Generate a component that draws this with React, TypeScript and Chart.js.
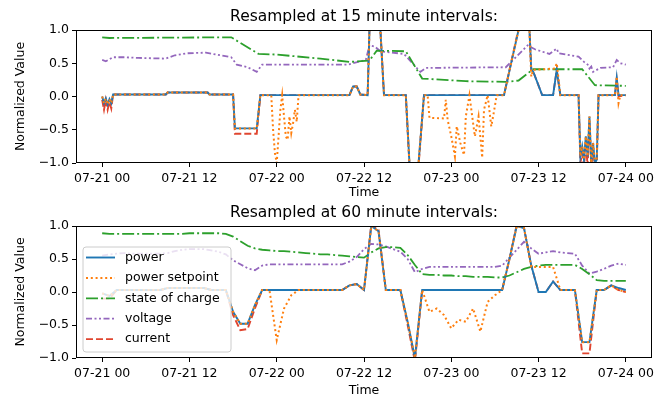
import React, { useEffect, useRef } from 'react';
import { Chart, registerables } from 'chart.js';

Chart.register(...registerables);

// ---------------- data ----------------
const START_DAY = 21;
const X_TICKS = [0, 12, 24, 36, 48, 60, 72];
const Y_TICKS = [-1, -0.5, 0, 0.5, 1];
const SERIES_NAMES = ['power', 'power setpoint', 'state of charge', 'voltage', 'current'];
const TITLES = ['Resampled at 15 minute intervals:', 'Resampled at 60 minute intervals:'];

// 15 minute resampling: [hour since 07-21 00, value]
const POWER_15 = [[0,0],[0.25,-0.1],[0.5,-0.03],[0.75,-0.12],[1,-0.04],[1.25,-0.1],[1.5,0.03],[8.75,0.03],[9,0.06],[14.5,0.06],[14.75,0.03],[18,0.03],[18.25,-0.48],[21.25,-0.48],[21.75,0.02],[34,0.02],[34.5,0.15],[35,0.15],[35.5,0.03],[36.5,0.02],[36.75,1],[38.25,1],[38.75,0.02],[41.75,0.02],[42.25,-1],[43.5,-1],[44.25,0.02],[55.25,0.02],[57.25,1],[58.75,1],[59,0.4],[59.25,0.38],[60.5,0.02],[62,0.02],[62.5,0.4],[63,0.02],[65.5,0.02],[65.75,-0.9],[66,-0.75],[66.25,-0.95],[66.5,-0.6],[66.75,-0.9],[67,-0.3],[67.25,-1],[67.5,-0.7],[67.75,-1],[68,-0.95],[68.25,0.02],[70.5,0.02],[70.75,0.28],[71,0.02],[72,0.02]];
const SETPOINT_15 = [[0,0],[0.25,-0.1],[0.5,-0.03],[0.75,-0.12],[1,-0.04],[1.25,-0.1],[1.5,0.03],[8.75,0.03],[9,0.06],[14.5,0.06],[14.75,0.03],[18,0.03],[18.25,-0.48],[21.25,-0.48],[21.75,0.02],[23.25,0.02],[23.5,-0.5],[23.75,-0.85],[24,-1],[24.25,-0.6],[24.5,-0.2],[24.75,0.02],[25,-0.3],[25.25,-0.6],[25.5,-0.65],[25.75,-0.3],[26,-0.55],[26.25,-0.4],[26.5,-0.2],[26.75,-0.38],[27,0.02],[34,0.02],[34.5,0.15],[35,0.15],[35.5,0.03],[36.5,0.02],[36.75,1],[38.25,1],[38.75,0.02],[41.75,0.02],[42.25,-1],[43.5,-1],[44.25,0.02],[44.75,0.02],[45,-0.32],[47,-0.33],[47.25,-0.05],[47.5,-0.35],[48,-0.6],[48.5,-0.9],[48.75,-0.45],[49.25,-0.7],[49.75,-0.88],[50,-0.3],[50.5,0.02],[51,-0.4],[51.25,-0.6],[51.75,-0.3],[52.25,-0.92],[52.5,-0.2],[53,0.02],[53.5,-0.45],[53.75,-0.3],[54.25,0.02],[55.25,0.02],[57.25,1],[58.75,1],[59,0.3],[59.25,0.4],[62.25,0.42],[62.5,0.5],[63,0.02],[65.5,0.02],[65.75,-0.9],[66,-0.75],[66.25,-0.95],[66.5,-0.6],[66.75,-0.9],[67,-0.3],[67.25,-1],[67.5,-0.7],[67.75,-1],[68,-0.95],[68.25,0.02],[70.5,0.02],[70.75,0.3],[71,-0.1],[71.25,0.02],[72,0.02]];
const SOC_15 = [[0,0.89],[1,0.88],[17.75,0.89],[21.5,0.64],[24,0.63],[30,0.57],[34,0.52],[36.75,0.54],[37.75,0.69],[41.75,0.68],[44,0.27],[50,0.23],[55.5,0.22],[57.25,0.24],[59.25,0.41],[66,0.41],[67.75,0.17],[72,0.16]];
const VOLTAGE_15 = [[0,0.55],[0.5,0.53],[1.5,0.59],[3,0.59],[5,0.58],[8.75,0.57],[10,0.62],[11.75,0.65],[14.25,0.66],[16.25,0.62],[17.75,0.59],[18.5,0.48],[20,0.44],[21.25,0.37],[22,0.48],[33.75,0.48],[36.25,0.55],[36.75,0.77],[37.5,0.75],[38.25,0.68],[41.5,0.64],[43.75,0.37],[44.5,0.43],[55.5,0.44],[58.5,0.77],[59.5,0.71],[61.5,0.64],[62.5,0.72],[62.75,0.65],[65.5,0.6],[66.25,0.52],[66.75,0.48],[67,0.42],[67.25,0.45],[67.5,0.37],[68.5,0.43],[70.25,0.44],[70.75,0.55],[71.25,0.5],[72,0.48]];
const CURRENT_15 = [[0,-0.05],[0.25,-0.2],[0.5,-0.05],[0.75,-0.2],[1,-0.08],[1.25,-0.18],[1.5,0.03],[8.75,0.03],[9,0.06],[14.5,0.06],[14.75,0.03],[18,0.03],[18.25,-0.56],[21.25,-0.56],[21.75,0.02],[34,0.02],[34.5,0.15],[35,0.15],[35.5,0.03],[36.5,0.02],[36.75,1.02],[38.25,1.02],[38.75,0.02],[41.75,0.02],[42.25,-1.04],[43.5,-1.04],[44.25,0.02],[55.25,0.02],[57.25,1.02],[58.75,1.02],[59,0.4],[59.25,0.38],[60.5,0.02],[62,0.02],[62.5,0.4],[63,0.02],[65.5,0.02],[65.75,-1],[66,-0.85],[66.25,-1.05],[66.5,-0.7],[66.75,-1.05],[67,-0.4],[67.25,-1.05],[67.5,-0.8],[67.75,-1.05],[68,-1.05],[68.25,0.02],[70.5,0.02],[70.75,0.25],[71,0],[72,0.02]];

// 60 minute resampling: one value per hour, hours 0..72
const HOURS_60 = Array.from({ length: 73 }, (_, i) => i);
const POWER_60 = [
  -0.02,-0.06,0.03,0.03,0.03,0.03,0.03,0.03,0.03,0.06,0.06,0.06,
  0.06,0.06,0.06,0.03,0.03,0.03,-0.3,-0.48,-0.48,-0.2,0.03,0.03,
  0.03,0.03,0.03,0.03,0.03,0.03,0.03,0.03,0.03,0.03,0.1,0.12,
  0.03,1.0,0.92,0.03,0.03,0.03,-0.45,-1.0,0.03,0.03,0.03,0.03,
  0.03,0.03,0.03,0.03,0.03,0.03,0.03,0.03,0.5,1.0,0.97,0.4,
  0.0,0.0,0.16,0.03,0.03,0.03,-0.76,-0.76,0.03,0.03,0.1,0.06,
  0.03];
const SETPOINT_60 = [
  -0.02,-0.06,0.03,0.03,0.03,0.03,0.03,0.03,0.03,0.06,0.06,0.06,
  0.06,0.06,0.06,0.03,0.03,0.03,-0.3,-0.48,-0.48,-0.2,0.03,0.03,
  -0.73,-0.25,-0.05,0.03,0.03,0.03,0.03,0.03,0.03,0.03,0.1,0.12,
  0.03,1.0,0.92,0.03,0.03,0.03,-0.45,-1.0,0.03,-0.3,-0.25,-0.35,
  -0.55,-0.42,-0.45,-0.25,-0.6,-0.15,-0.05,0.03,0.5,1.0,0.97,0.38,
  0.38,0.38,0.38,0.03,0.03,0.03,-0.76,-0.76,0.03,0.03,0.1,0.03,
  0.0];
const SOC_60 = [
  0.89,0.88,0.88,0.88,0.88,0.88,0.88,0.88,0.88,0.88,0.88,0.88,
  0.89,0.89,0.89,0.89,0.89,0.88,0.84,0.77,0.7,0.66,0.64,0.63,
  0.62,0.62,0.61,0.6,0.59,0.58,0.57,0.57,0.56,0.55,0.54,0.53,
  0.52,0.6,0.66,0.68,0.68,0.67,0.56,0.41,0.27,0.26,0.26,0.25,
  0.25,0.24,0.24,0.23,0.23,0.23,0.22,0.22,0.25,0.3,0.35,0.38,
  0.4,0.41,0.41,0.41,0.41,0.41,0.35,0.27,0.18,0.17,0.17,0.17,
  0.17];
const VOLTAGE_60 = [
  0.55,0.57,0.58,0.59,0.58,0.58,0.58,0.58,0.58,0.59,0.62,0.64,
  0.65,0.65,0.65,0.63,0.61,0.57,0.48,0.42,0.36,0.33,0.4,0.42,
  0.42,0.42,0.42,0.42,0.42,0.42,0.42,0.42,0.42,0.42,0.46,0.53,
  0.65,0.73,0.72,0.69,0.65,0.61,0.5,0.3,0.35,0.38,0.38,0.38,
  0.38,0.38,0.38,0.38,0.38,0.38,0.38,0.4,0.52,0.64,0.76,0.66,
  0.58,0.6,0.62,0.6,0.59,0.58,0.4,0.28,0.31,0.35,0.4,0.43,
  0.41];
const CURRENT_60 = [
  -0.1,-0.1,0.03,0.03,0.03,0.03,0.03,0.03,0.03,0.06,0.06,0.06,
  0.06,0.06,0.06,0.03,0.03,0.03,-0.35,-0.58,-0.56,-0.25,0.03,0.03,
  0.03,0.03,0.03,0.03,0.03,0.03,0.03,0.03,0.03,0.03,0.1,0.12,
  0.03,1.02,0.94,0.03,0.03,0.03,-0.5,-1.05,0.03,0.03,0.03,0.03,
  0.03,0.03,0.03,0.03,0.03,0.03,0.03,0.03,0.5,1.02,0.97,0.4,
  0.0,0.0,0.16,0.03,0.03,0.03,-0.93,-0.93,0.03,0.03,0.1,0.03,
  0.0];

// ---------------- style ----------------
const FONT = '"DejaVu Sans", "Liberation Sans", sans-serif';
const TICK_PX = 12.5;
const TITLE_PX = 15.5;
const X_MIN = -3.6;
const X_MAX = 75.6;
const COLORS = ['#1f77b4', '#ff7f0e', '#2ca02c', '#9467bd', '#e0452f'];
const DASHES = [[], [2, 2.8], [12, 3, 2, 3], [6, 2.5, 2, 2.5, 2, 2.5], [7, 3]];
const DRAW_ORDER = [1, 0, 2, 3, 4];
const WIDTHS = [1.9, 2, 1.8, 1.8, 1.9];

const fmtTime = (v: number) => {
  const d = START_DAY + Math.floor(v / 24);
  const h = ((v % 24) + 24) % 24;
  return `07-${String(d).padStart(2, '0')} ${String(h).padStart(2, '0')}`;
};
const fmtVal = (v: number) => (v < 0 ? '\u2212' : '') + Math.abs(v).toFixed(1);

const framePlugin = {
  id: 'frame',
  afterDatasetsDraw(chart: any, _args: any, opts: any) {
    const { ctx, chartArea: a } = chart;
    ctx.save();
    ctx.strokeStyle = '#000';
    ctx.lineWidth = 1;
    ctx.setLineDash([]);
    ctx.strokeRect(Math.round(a.left) + 0.5, Math.round(a.top) + 0.5, Math.round(a.right - a.left) - 1, Math.round(a.bottom - a.top) - 1);
    // title
    ctx.fillStyle = '#000';
    ctx.font = `${TITLE_PX}px ${FONT}`;
    ctx.textAlign = 'center';
    ctx.textBaseline = 'alphabetic';
    ctx.fillText(opts.title, (a.left + a.right) / 2, a.top - 9);
    if (opts.legend) {
      const x0 = a.left + 7;
      const y0 = a.top + 21;
      const w = 148;
      const h = 105;
      ctx.beginPath();
      const r = 3;
      ctx.moveTo(x0 + r, y0);
      ctx.lineTo(x0 + w - r, y0);
      ctx.arcTo(x0 + w, y0, x0 + w, y0 + r, r);
      ctx.lineTo(x0 + w, y0 + h - r);
      ctx.arcTo(x0 + w, y0 + h, x0 + w - r, y0 + h, r);
      ctx.lineTo(x0 + r, y0 + h);
      ctx.arcTo(x0, y0 + h, x0, y0 + h - r, r);
      ctx.lineTo(x0, y0 + r);
      ctx.arcTo(x0, y0, x0 + r, y0, r);
      ctx.closePath();
      ctx.fillStyle = 'rgba(255,255,255,0.8)';
      ctx.fill();
      ctx.strokeStyle = '#cccccc';
      ctx.lineWidth = 1;
      ctx.stroke();
      chart.data.datasets.forEach((ds: any, i: number) => {
        const yc = y0 + 10.5 + i * 20.4;
        ctx.beginPath();
        ctx.strokeStyle = ds.borderColor;
        ctx.lineWidth = ds.borderWidth;
        ctx.setLineDash(ds.borderDash || []);
        ctx.moveTo(x0 + 3, yc);
        ctx.lineTo(x0 + 32, yc);
        ctx.stroke();
        ctx.setLineDash([]);
        ctx.fillStyle = '#000';
        ctx.font = `${TICK_PX}px ${FONT}`;
        ctx.textAlign = 'left';
        ctx.textBaseline = 'middle';
        ctx.fillText(ds.label, x0 + 42, yc);
      });
    }
    ctx.restore();
  },
};

function makeConfig(series: { x: number; y: number }[][], title: string, legend: boolean, height: number, areaTop: number, areaBottom: number) {
  const tickFont = { size: TICK_PX, family: FONT };
  return {
    type: 'line' as const,
    data: {
      datasets: series.map((pts, i) => ({
        label: SERIES_NAMES[i],
        data: pts,
        borderColor: COLORS[i],
        backgroundColor: COLORS[i],
        borderWidth: WIDTHS[i],
        borderDash: DASHES[i],
        pointRadius: 0,
        tension: 0,
        fill: false,
        order: DRAW_ORDER[i],
      })),
    },
    options: {
      responsive: false,
      animation: false,
      devicePixelRatio: 1,
      parsing: false,
      normalized: true,
      layout: { padding: { top: areaTop, right: 15, left: 0, bottom: 0 } },
      plugins: {
        legend: { display: false },
        tooltip: { enabled: false },
        frame: { title, legend },
      },
      scales: {
        x: {
          type: 'linear',
          min: X_MIN,
          max: X_MAX,
          afterBuildTicks: (s: any) => { s.ticks = X_TICKS.map((value) => ({ value })); },
          afterFit: (s: any) => { s.height = height - areaBottom; },
          ticks: { callback: (v: any) => fmtTime(Number(v)), color: '#000', font: tickFont, padding: 4, maxRotation: 0, autoSkip: false },
          grid: { display: true, drawOnChartArea: false, drawTicks: true, tickLength: 4, tickColor: '#000', tickWidth: 1 },
          border: { display: false },
          title: { display: true, text: 'Time', color: '#000', font: tickFont, padding: { top: 0, bottom: -3 } },
        },
        y: {
          type: 'linear',
          min: -1,
          max: 1,
          afterBuildTicks: (s: any) => { s.ticks = Y_TICKS.map((value) => ({ value })); },
          afterFit: (s: any) => { s.width = 76; },
          ticks: { callback: (v: any) => fmtVal(Number(v)), color: '#000', font: tickFont, padding: 3, autoSkip: false },
          grid: { display: true, drawOnChartArea: false, drawTicks: true, tickLength: 4, tickColor: '#000', tickWidth: 1 },
          border: { display: false },
          title: { display: true, text: 'Normalized Value', color: '#000', font: tickFont, padding: { top: 13, bottom: 0 } },
        },
      },
    },
    plugins: [framePlugin],
  };
}

const toPts = (pairs: number[][]) => pairs.map(([x, y]) => ({ x, y }));
const hourly = (vals: number[]) => vals.map((y, i) => ({ x: HOURS_60[i], y }));

const TOP_H = 197;
const BOT_H = 198;

export default function App() {
  const topRef = useRef<HTMLCanvasElement>(null);
  const botRef = useRef<HTMLCanvasElement>(null);

  useEffect(() => {
    const top = new Chart(topRef.current as HTMLCanvasElement, makeConfig(
      [toPts(POWER_15), toPts(SETPOINT_15), toPts(SOC_15), toPts(VOLTAGE_15), toPts(CURRENT_15)],
      TITLES[0], false, TOP_H, 30, 163) as any);
    const bot = new Chart(botRef.current as HTMLCanvasElement, makeConfig(
      [hourly(POWER_60), hourly(SETPOINT_60), hourly(SOC_60), hourly(VOLTAGE_60), hourly(CURRENT_60)],
      TITLES[1], true, BOT_H, 29, 161) as any);
    return () => { top.destroy(); bot.destroy(); };
  }, []);

  return (
    <div style={{ position: 'absolute', left: 0, top: 0, width: 667, height: 395, background: '#fff' }}>
      <canvas ref={topRef} width={667} height={TOP_H} style={{ display: 'block', width: 667, height: TOP_H }} />
      <canvas ref={botRef} width={667} height={BOT_H} style={{ display: 'block', width: 667, height: BOT_H }} />
    </div>
  );
}
